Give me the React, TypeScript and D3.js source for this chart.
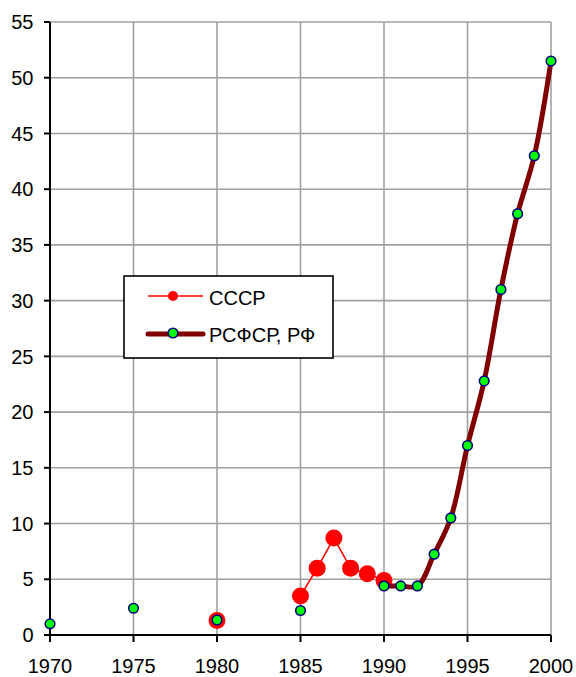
import React from "react";
import * as d3 from "d3";

const yearsTicks = [1970, 1975, 1980, 1985, 1990, 1995, 2000];
const valueTicks = [0, 5, 10, 15, 20, 25, 30, 35, 40, 45, 50, 55];

// СССР series
const ussrYears = [1980, 1985, 1986, 1987, 1988, 1989, 1990];
const ussrValues = [1.3, 3.5, 6.0, 8.7, 6.0, 5.5, 4.9];

// РСФСР, РФ series
const rfYears = [1970, 1975, 1980, 1985, 1990, 1991, 1992, 1993, 1994, 1995, 1996, 1997, 1998, 1999, 2000];
const rfValues = [1.0, 2.4, 1.35, 2.2, 4.4, 4.4, 4.4, 7.25, 10.5, 17.0, 22.8, 31.0, 37.8, 43.0, 51.5];

const legendLabels = ["СССР", "РСФСР, РФ"];

type Pt = { x: number; y: number };

function segmentsOf(years: number[], values: number[]): Pt[][] {
  const segs: Pt[][] = [];
  let cur: Pt[] = [];
  years.forEach((yr, i) => {
    if (i > 0 && yr - years[i - 1] !== 1) {
      if (cur.length > 1) segs.push(cur);
      cur = [];
    }
    cur.push({ x: yr, y: values[i] });
  });
  if (cur.length > 1) segs.push(cur);
  return segs;
}

export default function App() {
  const W = 576, H = 677;
  const x = d3.scaleLinear().domain([1970, 2000]).range([50, 551]);
  const y = d3.scaleLinear().domain([0, 55]).range([635, 22]);
  const font = "'Liberation Sans', Arial, sans-serif";

  const straight = d3.line<Pt>().x(d => x(d.x)).y(d => y(d.y));
  const smooth = d3.line<Pt>().x(d => x(d.x)).y(d => y(d.y)).curve(d3.curveCatmullRom.alpha(0.5));

  const ussrSegs = segmentsOf(ussrYears, ussrValues);
  const rfSegs = segmentsOf(rfYears, rfValues);

  const gridColor = "#a0a0a0";

  return (
    <svg width={W} height={H} style={{ position: "absolute", left: 0, top: 0 }} fontFamily={font}>
      <rect width={W} height={H} fill="#fff" />
      {valueTicks.filter(v => v > 0).map(v => (
        <line key={"h" + v} x1={x(1970)} x2={x(2000)} y1={y(v)} y2={y(v)} stroke={gridColor} strokeWidth={1.6} />
      ))}
      {yearsTicks.filter(v => v > 1970).map(v => (
        <line key={"v" + v} x1={x(v)} x2={x(v)} y1={y(55)} y2={y(0)} stroke={gridColor} strokeWidth={1.6} />
      ))}
      <line x1={x(1970)} x2={x(1970)} y1={y(55)} y2={y(0)} stroke="#000" strokeWidth={2} />
      <line x1={x(1970)} x2={x(2000)} y1={y(0)} y2={y(0)} stroke="#000" strokeWidth={2} />
      {valueTicks.map(v => (
        <g key={"yt" + v}>
          <line x1={x(1970) - 6} x2={x(1970)} y1={y(v)} y2={y(v)} stroke="#000" strokeWidth={2} />
          <text x={33.5} y={y(v)} dy="0.36em" textAnchor="end" fontSize={20} fill="#000">{v}</text>
        </g>
      ))}
      {yearsTicks.map(v => (
        <g key={"xt" + v}>
          <line x1={x(v)} x2={x(v)} y1={y(0)} y2={y(0) + 7} stroke="#000" strokeWidth={2} />
          <text x={x(v)} y={673} textAnchor="middle" fontSize={20} fill="#000">{v}</text>
        </g>
      ))}
      {ussrSegs.map((s, i) => (
        <path key={"us" + i} d={straight(s) || ""} fill="none" stroke="#ff0000" strokeWidth={1.5} />
      ))}
      {ussrYears.map((yr, i) => (
        <circle key={"um" + yr} cx={x(yr)} cy={y(ussrValues[i])} r={8.5} fill="#ff0000" />
      ))}
      {rfSegs.map((s, i) => (
        <path key={"rs" + i} d={smooth(s) || ""} fill="none" stroke="#800000" strokeWidth={5} strokeLinejoin="round" />
      ))}
      {rfYears.map((yr, i) => (
        <circle key={"rm" + yr} cx={x(yr)} cy={y(rfValues[i])} r={4.8} fill="#00ff00" stroke="#000080" strokeWidth={1.6} />
      ))}
      <rect x={124} y={276} width={209} height={82} fill="#fff" stroke="#000" strokeWidth={1.6} />
      <line x1={148} x2={203} y1={296} y2={296} stroke="#ff0000" strokeWidth={1.5} />
      <circle cx={173} cy={296} r={5} fill="#ff0000" />
      <text x={209} y={305} fontSize={20} fill="#000">{legendLabels[0]}</text>
      <line x1={148} x2={203} y1={334} y2={334} stroke="#800000" strokeWidth={5} strokeLinecap="round" />
      <circle cx={173} cy={333} r={4.8} fill="#00ff00" stroke="#000080" strokeWidth={1.6} />
      <text x={209} y={342} fontSize={20} fill="#000">{legendLabels[1]}</text>
    </svg>
  );
}
